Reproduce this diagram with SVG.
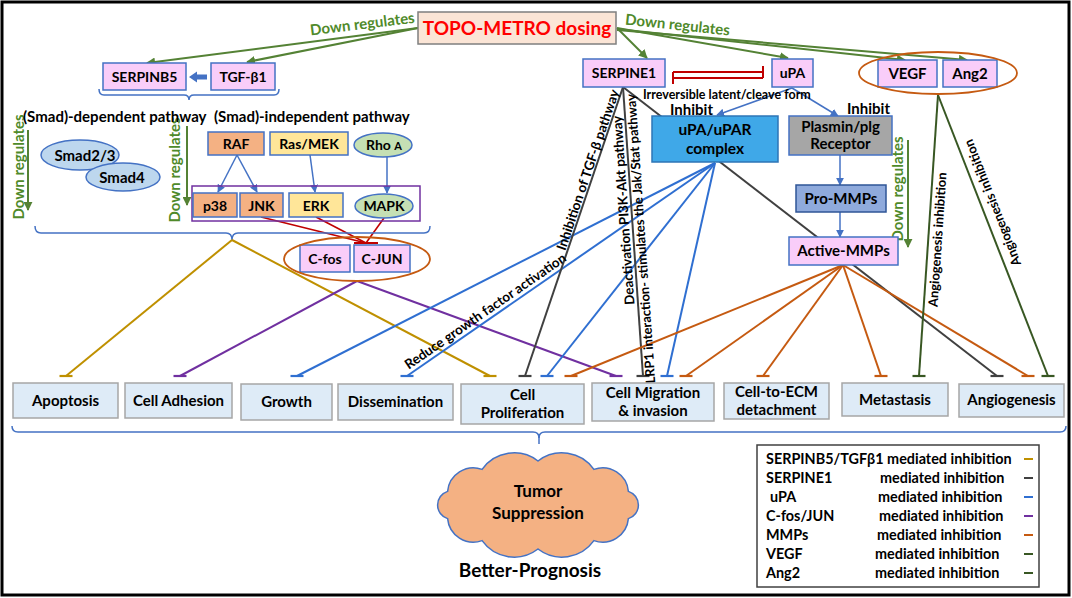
<svg xmlns="http://www.w3.org/2000/svg" width="1072" height="598" viewBox="0 0 1072 598">
<style>
text{font-family:Lato,"Liberation Sans",sans-serif;font-weight:bold;fill:#000}
.c{text-anchor:middle}
.ln{fill:none;stroke-width:2}
.gr{stroke:#548235}
.bl{stroke:#4472c4;stroke-width:1.5}
.bu{stroke:#2f6fd1}
.go{stroke:#bf9000}
.pu{stroke:#7030a0}
.bk{stroke:#404040}
.or{stroke:#c55a11}
.dg{stroke:#385723}
.rd{stroke:#c00000;stroke-width:1.6}
.pink{fill:#f9cdf9;stroke:#4472c4;stroke-width:1.5}
.sal{fill:#f4b183;stroke:#4472c4;stroke-width:1.5}
.yel{fill:#ffe699;stroke:#4472c4;stroke-width:1.5}
.lg{fill:#c5e0b4;stroke:#4472c4;stroke-width:1.5}
.sb{fill:#bdd7ee;stroke:#4472c4;stroke-width:1.5}
.out{fill:#deebf7;stroke:#a6a6a6;stroke-width:1.5}
.gtx{fill:#4f8a2a}
</style>
<defs>
<marker id="ag" viewBox="0 0 10 10" refX="9" refY="5" markerWidth="9" markerHeight="9" markerUnits="userSpaceOnUse" orient="auto"><path d="M0,0L10,5L0,10z" fill="#548235"/></marker>
<marker id="ab" viewBox="0 0 10 10" refX="9" refY="5" markerWidth="8" markerHeight="8" markerUnits="userSpaceOnUse" orient="auto"><path d="M0,0L10,5L0,10z" fill="#4472c4"/></marker>
<marker id="tgo" viewBox="-8 -2 16 4" markerWidth="16" markerHeight="4" markerUnits="userSpaceOnUse" orient="0"><path d="M-6.5,0H6.5" stroke="#bf9000" stroke-width="2.2"/></marker>
<marker id="tpu" viewBox="-8 -2 16 4" markerWidth="16" markerHeight="4" markerUnits="userSpaceOnUse" orient="0"><path d="M-6.5,0H6.5" stroke="#7030a0" stroke-width="2.2"/></marker>
<marker id="tbu" viewBox="-8 -2 16 4" markerWidth="16" markerHeight="4" markerUnits="userSpaceOnUse" orient="0"><path d="M-6.5,0H6.5" stroke="#2f6fd1" stroke-width="2.2"/></marker>
<marker id="tbk" viewBox="-8 -2 16 4" markerWidth="16" markerHeight="4" markerUnits="userSpaceOnUse" orient="0"><path d="M-6.5,0H6.5" stroke="#404040" stroke-width="2.2"/></marker>
<marker id="tor" viewBox="-8 -2 16 4" markerWidth="16" markerHeight="4" markerUnits="userSpaceOnUse" orient="0"><path d="M-6.5,0H6.5" stroke="#c55a11" stroke-width="2.2"/></marker>
<marker id="tdg" viewBox="-8 -2 16 4" markerWidth="16" markerHeight="4" markerUnits="userSpaceOnUse" orient="0"><path d="M-6.5,0H6.5" stroke="#385723" stroke-width="2.2"/></marker>
<marker id="trd" viewBox="-2 -7 4 14" markerWidth="4" markerHeight="14" markerUnits="userSpaceOnUse" orient="auto"><path d="M0,-6V6" stroke="#c00000" stroke-width="2"/></marker>
</defs>
<rect x="2" y="2" width="1067" height="593" fill="#fff" stroke="#000" stroke-width="3"/>

<g id="connectors">
<g class="ln gr" marker-end="url(#ag)">
<path d="M418,28L147,63"/><path d="M418,28L247,62"/>
<path d="M617,28L647,58"/><path d="M617,28L788,58"/>
<path d="M617,29L905,60"/><path d="M617,30L967,60"/>
</g>
<g class="ln gr" stroke-width="2.5" marker-end="url(#ag)">
<path d="M28,130V210"/><path d="M187,126V205"/><path d="M908,140V247"/>
</g>
<polygon points="207,74.5 197,74.5 197,71.5 189,77 197,82.5 197,79.5 207,79.5" fill="#4472c4"/>
<g class="ln bl" marker-end="url(#ab)">
<path d="M237,155L218,192"/><path d="M237,155L257,192"/>
<path d="M310,155L315,192"/><path d="M387,157V193"/>
<path d="M792,88L717,115"/><path d="M792,88L838,116"/>
<path d="M840,155V185"/><path d="M840,212V237"/>
</g>
<g class="ln rd">
<path d="M261,217L366,243"/><path d="M316,217L366,243"/><path d="M384,218L366,243"/>
<path d="M354,243H378" stroke-width="2"/>
<path d="M673,72H763" stroke-width="2" marker-end="url(#trd)"/>
<path d="M763,78H673" stroke-width="2" marker-end="url(#trd)"/>
</g>
<g class="ln bl">
<path d="M99,89Q99,95 104,95H184Q189,95 189,100Q189,95 194,95H274Q279,95 279,89"/>
<path d="M35,226Q35,233 41,233H226Q232,233 232,240Q232,233 238,233H424Q430,233 430,226"/>
<path d="M12,426Q12,432 18,432H533Q539,432 539,438Q539,432 545,432H1060Q1066,432 1066,426"/>
<path d="M539,436V444"/>
</g>
<g class="ln go" marker-end="url(#tgo)">
<path d="M232,240L66,376"/><path d="M232,240L490,376"/>
</g>
<g class="ln pu" marker-end="url(#tpu)">
<path d="M357,281L180,376"/><path d="M357,281L616,376"/>
</g>
<g class="ln bu" marker-end="url(#tbu)">
<path d="M715,163L297,376"/><path d="M715,163L407,376"/>
<path d="M715,163L547,376"/><path d="M715,163L667,376"/>
</g>
<g class="ln bk" marker-end="url(#tbk)">
<path d="M623,87L525,376"/><path d="M623,87L643,376"/><path d="M623,87L997,376"/>
</g>
<g class="ln or" marker-end="url(#tor)">
<path d="M843,265L571,376"/><path d="M843,265L686,376"/><path d="M843,265L763,376"/>
<path d="M843,265L881,376"/><path d="M843,265L1028,376"/>
</g>
<g class="ln dg" marker-end="url(#tdg)">
<path d="M938,95L919,376"/><path d="M938,95L1048,376"/>
</g>
<text class="c gtx" font-size="15" transform="translate(363,29) rotate(-7)">Down regulates</text>
<text class="c gtx" font-size="15" transform="translate(677,30) rotate(6)">Down regulates</text>
<text class="c gtx" font-size="15" transform="translate(23.5,167) rotate(-90)">Down regulates</text>
<text class="c gtx" font-size="15" transform="translate(180,170) rotate(-90)">Down regulates</text>
<text class="c gtx" font-size="15" transform="translate(903,189) rotate(-90)">Down regulates</text>
<text class="c" font-size="13.5" transform="translate(592.3,171.4) rotate(-71.3)">Inhibition of TGF-β pathway</text>
<text class="c" font-size="13.4" transform="translate(628,210) rotate(-93.96)">Deactivation PI3K-Akt pathway</text>
<text class="c" font-size="13" transform="translate(645.3,238.5) rotate(-93.96)">LRP1 interaction- stimulates the Jak/Stat pathway</text>
<text class="c" font-size="13.5" transform="translate(488,315) rotate(-34.67)">Reduce growth factor activation</text>
<text class="c" font-size="13" transform="translate(942,240) rotate(-86.13)">Angiogenesis inhibition</text>
<text class="c" font-size="13" transform="translate(996.7,201.2) rotate(-111.37)">Angiogenesis inhibition</text>
<text font-size="12.5" x="643" y="99">Irreversible latent/cleave form</text>
<text font-size="15" x="670" y="115">Inhibit</text>
<text font-size="15" x="847" y="114">Inhibit</text>
</g>

<g id="topo"><rect x="418" y="12" width="198" height="32" fill="#fbe5d6" stroke="#7f7f7f" stroke-width="1.5"/><text class="c" x="517" y="35" font-size="19" style="fill:#ff0000">TOPO-METRO dosing</text></g>
<g id="serpinb5"><rect class="pink" x="103" y="63" width="83" height="27"/><text class="c" x="144.5" y="81.5" font-size="14">SERPINB5</text></g>
<g id="tgfb1"><rect class="pink" x="211" y="63" width="64" height="27"/><text class="c" x="243" y="81.5" font-size="14">TGF-β1</text></g>
<g id="labels-smad"><text x="23" y="122" font-size="15">(Smad)-dependent pathway</text><text x="214" y="122" font-size="15">(Smad)-independent pathway</text></g>
<g id="smad23"><ellipse class="sb" cx="80" cy="155" rx="39" ry="15"/></g>
<g id="smad4"><ellipse class="sb" cx="123" cy="177" rx="37" ry="14"/><text class="c" x="85" y="161" font-size="15">Smad2/3</text><text class="c" x="122" y="183" font-size="15">Smad4</text></g>
<g id="raf"><rect class="sal" x="208" y="132" width="56" height="23"/><text class="c" x="236" y="149" font-size="14">RAF</text></g>
<g id="rasmek"><rect class="yel" x="270" y="132" width="78" height="23"/><text class="c" x="309" y="149" font-size="14">Ras/MEK</text></g>
<g id="rhoa"><ellipse class="lg" cx="383" cy="145" rx="29" ry="12"/><text class="c" x="384" y="150" font-size="14">Rho <tspan font-size="11">A</tspan></text></g>
<g id="kinases"><rect x="192" y="186" width="228" height="35" fill="none" stroke="#7030a0" stroke-width="1.5"/></g>
<g id="p38"><rect class="sal" x="193" y="193" width="44" height="24"/><text class="c" x="215" y="210.5" font-size="14">p38</text></g>
<g id="jnk"><rect class="sal" x="240" y="193" width="43" height="24"/><text class="c" x="261.5" y="210.5" font-size="14">JNK</text></g>
<g id="erk"><rect class="yel" x="289" y="193" width="54" height="24"/><text class="c" x="316" y="210.5" font-size="14">ERK</text></g>
<g id="mapk"><ellipse class="lg" cx="384" cy="206" rx="29" ry="12"/><text class="c" x="384" y="211" font-size="14">MAPK</text></g>
<g id="cfos"><rect class="pink" x="300" y="245" width="50" height="27"/><text class="c" x="325" y="263.5" font-size="14">C-fos</text></g>
<g id="cjun"><rect class="pink" x="354" y="245" width="56" height="27"/><text class="c" x="382" y="263.5" font-size="14">C-JUN</text></g>
<g id="ap1-ring"><ellipse cx="357" cy="259" rx="73" ry="22" fill="none" stroke="#c55a11" stroke-width="1.8"/></g>
<g id="serpine1"><rect class="pink" x="583" y="59" width="82" height="28"/><text class="c" x="624" y="78" font-size="14">SERPINE1</text></g>
<g id="upa"><rect class="pink" x="772" y="59" width="41" height="28"/><text class="c" x="792.5" y="78" font-size="14">uPA</text></g>
<g id="vegf"><rect class="pink" x="878" y="60" width="59" height="27"/><text class="c" x="907.5" y="79" font-size="15">VEGF</text></g>
<g id="ang2"><rect class="pink" x="943" y="60" width="54" height="27"/><text class="c" x="970" y="79" font-size="15">Ang2</text></g>
<g id="vegf-ring"><ellipse cx="938" cy="73" rx="79" ry="21" fill="none" stroke="#c55a11" stroke-width="1.8"/></g>
<g id="upar"><rect x="652" y="116" width="126" height="46" fill="#3fa8e8" stroke="#2e75b6" stroke-width="1.5"/><text class="c" x="715" y="135" font-size="15.5">uPA/uPAR</text><text class="c" x="715" y="154" font-size="15.5">complex</text></g>
<g id="plasmin"><rect x="789" y="116" width="103" height="39" fill="#a6a6a6" stroke="#4472c4" stroke-width="1.5"/><text class="c" x="840.5" y="132" font-size="15">Plasmin/plg</text><text class="c" x="840.5" y="149" font-size="15">Receptor</text></g>
<g id="prommps"><rect x="796" y="185" width="90" height="27" fill="#8faadc" stroke="#2f5597" stroke-width="1.5"/><text class="c" x="841" y="204" font-size="15">Pro-MMPs</text></g>
<g id="activemmps"><rect class="pink" x="789" y="237" width="109" height="28"/><text class="c" x="843.5" y="256" font-size="15">Active-MMPs</text></g>

<g id="apoptosis"><rect class="out" x="13" y="383" width="105" height="35"/><text class="c" x="65.5" y="406" font-size="15">Apoptosis</text></g>
<g id="adhesion"><rect class="out" x="125" y="383" width="107" height="35"/><text class="c" x="178.5" y="406" font-size="15">Cell Adhesion</text></g>
<g id="growth"><rect class="out" x="241" y="384" width="91" height="36"/><text class="c" x="286.5" y="407" font-size="15">Growth</text></g>
<g id="dissemination"><rect class="out" x="338" y="384" width="115" height="36"/><text class="c" x="395.5" y="407" font-size="15">Dissemination</text></g>
<g id="proliferation"><rect class="out" x="461" y="384" width="123" height="40"/><text class="c" x="522.5" y="400" font-size="15">Cell</text><text class="c" x="522.5" y="418" font-size="15">Proliferation</text></g>
<g id="migration"><rect class="out" x="592" y="383" width="122" height="38"/><text class="c" x="653" y="398" font-size="15">Cell Migration</text><text class="c" x="653" y="416" font-size="15">&amp; invasion</text></g>
<g id="ecm"><rect class="out" x="724" y="383" width="105" height="36"/><text class="c" x="776.5" y="397" font-size="15">Cell-to-ECM</text><text class="c" x="776.5" y="415" font-size="15">detachment</text></g>
<g id="metastasis"><rect class="out" x="842" y="383" width="106" height="33"/><text class="c" x="895" y="405" font-size="15">Metastasis</text></g>
<g id="angiogenesis"><rect class="out" x="959" y="384" width="105" height="33"/><text class="c" x="1011.5" y="405" font-size="15">Angiogenesis</text></g>

<g id="tumor"><path d="M447.6,518.6A14.25,14.25 0 0 1 447.6,491.4A25.9,25.9 0 0 1 482.1,469.4A39.3,39.3 0 0 1 538,461A39.3,39.3 0 0 1 593.9,469.4A25.9,25.9 0 0 1 628.4,491.4A14.25,14.25 0 0 1 628.4,518.6A25.9,25.9 0 0 1 593.9,540.6A39.3,39.3 0 0 1 538,549A39.3,39.3 0 0 1 482.1,540.6A25.9,25.9 0 0 1 447.6,518.6Z" fill="#f4b183" stroke="#4472c4" stroke-width="1.5"/><text class="c" x="538" y="497" font-size="17">Tumor</text><text class="c" x="538" y="519" font-size="17">Suppression</text></g>
<g id="prognosis"><text class="c" x="530" y="577" font-size="19">Better-Prognosis</text></g>

<g id="legend">
<rect x="757" y="445" width="282" height="142" fill="#fff" stroke="#404040" stroke-width="1.5"/>
<g font-size="14.4">
<text x="766" y="464">SERPINB5/TGFβ1 mediated inhibition</text>
<text x="766" y="483">SERPINE1</text><text x="880" y="483">mediated inhibition</text>
<text x="770" y="502">uPA</text><text x="878" y="502">mediated inhibition</text>
<text x="766" y="521">C-fos/JUN</text><text x="879" y="521">mediated inhibition</text>
<text x="766" y="540">MMPs</text><text x="877" y="540">mediated inhibition</text>
<text x="766" y="559">VEGF</text><text x="875" y="559">mediated inhibition</text>
<text x="766" y="578">Ang2</text><text x="875" y="578">mediated inhibition</text>
</g>
<g class="ln" stroke-width="2.2">
<path class="go" d="M1024,459H1033"/><path class="bk" d="M1024,478H1033"/><path class="bu" d="M1024,497H1033"/>
<path class="pu" d="M1024,516H1033"/><path class="or" d="M1024,535H1033"/><path class="dg" d="M1024,554H1033"/><path class="dg" d="M1024,573H1033"/>
</g>
</g>
</svg>
